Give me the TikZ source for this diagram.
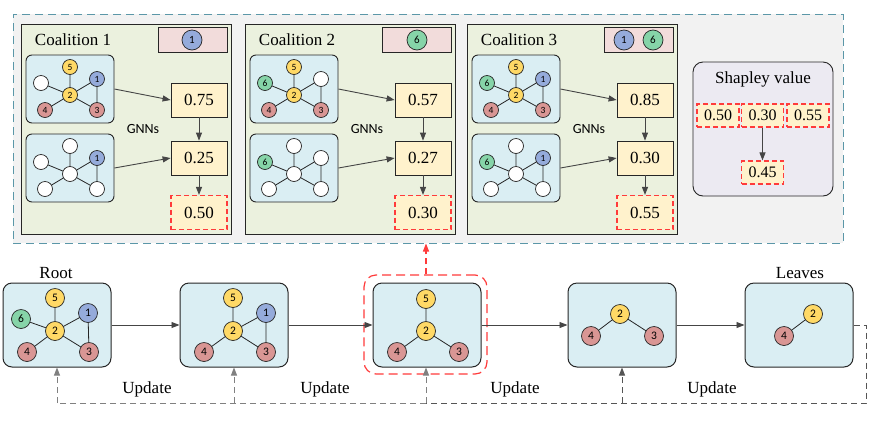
\documentclass[tikz,border=0pt]{standalone}
\usepackage{fontspec}
\setmainfont{Liberation Serif}
\newfontfamily\carl{Carlito}
\usetikzlibrary{arrows.meta}
\definecolor{dk}{HTML}{262626}
\definecolor{ark}{HTML}{454545}
\definecolor{gblue}{HTML}{DAEEF3}
\definecolor{pgreen}{HTML}{EBF1DE}
\definecolor{ppink}{HTML}{F2DCDB}
\definecolor{syel}{HTML}{FFF2CC}
\definecolor{nyel}{HTML}{FFD966}
\definecolor{nblue}{HTML}{95ABDB}
\definecolor{nred}{HTML}{D99694}
\definecolor{ngreen}{HTML}{86D4A8}
\definecolor{lav}{HTML}{ECEAF2}
\definecolor{outerf}{HTML}{F2F2F2}
\definecolor{outerd}{HTML}{5B97A8}
\definecolor{rdash}{HTML}{FF3B3B}
\definecolor{upl}{HTML}{808080}
\definecolor{upd}{HTML}{555555}
\newcommand\sgraph[4]{%
  \node[gbox] (#1) at (#2+44,#3+34) {};
  \foreach \px/\py [count=\i] in {44/12,15/28,71/24,44/40,19/55,71/55}{
    \coordinate (#1-p\i) at (#2+\px,#3+\py);}
  \draw[gedge] (#1-p1)--(#1-p4) (#1-p2)--(#1-p4) (#1-p3)--(#1-p4)
    (#1-p5)--(#1-p4) (#1-p6)--(#1-p4) (#1-p3)--(#1-p6);
  \foreach \st/\lb [count=\i] in {#4}{
    \node[snode,\st] (#1-\i) at (#1-p\i) {\lb};}
}
\newcommand\coal[8]{%
  \node[panel] (c#1) at (126+#2,129) {};
  \node[ttl] (c#1-t) at (73+#2,40) {Coalition #1};
  \node[pinkb] (c#1-k) at (192.5+#2,39.5) {};
  #5
  \sgraph{c#1-a}{26+#2}{55}{#3}
  \sgraph{c#1-b}{26+#2}{134}{#4}
  \node[score] (c#1-s1) at (199+#2,100) {#6};
  \node[score] (c#1-s2) at (199+#2,158) {#7};
  \node[rscore] (c#1-s3) at (199+#2,212.5) {#8};
  \node[gnn] (c#1-g) at (143+#2,129) {GNNs};
  \draw[arr] (c#1-a.east) -- (c#1-s1.west);
  \draw[arr] (c#1-b.east) -- (c#1-s2.west);
  \draw[arr] (c#1-s1) -- (c#1-s2);
  \draw[arr] (c#1-s2) -- (c#1-s3);
}
\begin{document}
\begin{tikzpicture}[x=1pt,y=-1pt,
  gbox/.style={draw=dk,line width=0.9pt,fill=gblue,rounded corners=6pt,minimum width=88pt,minimum height=68pt,inner sep=0pt},
  bigbox/.style={draw=dk,line width=1pt,fill=gblue,rounded corners=9pt,minimum width=108pt,minimum height=84pt,inner sep=0pt},
  gedge/.style={draw=dk,line width=0.8pt},
  snode/.style={circle,draw=dk,line width=0.7pt,minimum size=15pt,inner sep=0pt,font=\carl\fontsize{9.5}{10}\selectfont},
  bnode/.style={snode,minimum size=19pt,font=\carl\fontsize{11.5}{12}\selectfont},
  pnode/.style={snode,minimum size=20pt,font=\carl\fontsize{11}{12}\selectfont},
  yn/.style={fill=nyel}, bn/.style={fill=nblue}, rn/.style={fill=nred},
  gn/.style={fill=ngreen}, wn/.style={fill=white},
  panel/.style={draw=dk,line width=0.9pt,fill=pgreen,minimum width=210pt,minimum height=210pt,inner sep=0pt},
  pinkb/.style={draw=dk,line width=0.8pt,fill=ppink,minimum width=69pt,minimum height=25pt,inner sep=0pt},
  ttl/.style={font=\fontsize{17}{20}\selectfont,inner sep=0pt},
  score/.style={draw=dk,line width=0.8pt,fill=syel,minimum width=56pt,minimum height=34pt,inner sep=0pt,font=\fontsize{17}{18}\selectfont},
  rscore/.style={score,draw=rdash,line width=1.15pt,dash pattern=on 5pt off 3pt},
  sscore/.style={rscore,minimum width=42pt,minimum height=23pt,font=\fontsize{16}{17}\selectfont},
  gnn/.style={font=\carl\fontsize{14}{15}\selectfont,inner sep=0pt},
  arr/.style={draw=ark,line width=0.9pt,-{Triangle[length=8pt,width=6pt]}},
  updash/.style={line width=1pt,dash pattern=on 6pt off 4pt},
  lbl/.style={font=\fontsize{17}{20}\selectfont,inner sep=0pt}]
\useasboundingbox (0,0) rectangle (892,424);
% outer region
\node[draw=outerd,fill=outerf,line width=1pt,dash pattern=on 8pt off 5pt,minimum width=830pt,minimum height=229pt,inner sep=0pt] (outer) at (428,128.5) {};
% coalitions
\coal{1}{0}{yn/5,wn/{},bn/1,yn/2,rn/4,rn/3}{wn/{},wn/{},bn/1,wn/{},wn/{},wn/{}}{\node[pnode,bn] (c1-k1) at (192,40) {1};}{0.75}{0.25}{0.50}
\coal{2}{224}{yn/5,gn/6,wn/{},yn/2,rn/4,rn/3}{wn/{},gn/6,wn/{},wn/{},wn/{},wn/{}}{\node[pnode,gn] (c2-k1) at (417,40) {6};}{0.57}{0.27}{0.30}
\coal{3}{446}{yn/5,gn/6,bn/1,yn/2,rn/4,rn/3}{wn/{},gn/6,bn/1,wn/{},wn/{},wn/{}}{\node[pnode,bn] (c3-k1) at (624,40) {1};\node[pnode,gn] (c3-k2) at (653,40) {6};}{0.85}{0.30}{0.55}
% Shapley
\node[draw=dk,line width=0.9pt,fill=lav,rounded corners=10pt,minimum width=140pt,minimum height=134pt,inner sep=0pt] (sh) at (763,129) {};
\node[ttl] (sh-t) at (763,79) {Shapley value};
\node[sscore] (sh1) at (718,115.5) {0.50};
\node[sscore] (sh2) at (762.5,115.5) {0.30};
\node[sscore] (sh3) at (808,115.5) {0.55};
\node[sscore] (sh4) at (762.5,172.5) {0.45};
\draw[arr] (sh2) -- (sh4);
% bottom row
\node[draw=rdash,line width=1.2pt,dash pattern=on 9pt off 5pt,rounded corners=12pt,minimum width=123pt,minimum height=99pt,inner sep=0pt] (red) at (425.5,324.5) {};
\node[bigbox] (b1) at (57,325) {};
\node[bigbox] (b2) at (234,325) {};
\node[bigbox] (b3) at (427,325) {};
\node[bigbox] (b4) at (622,325) {};
\node[bigbox] (b5) at (799,325) {};
% box 1
\draw[gedge] (55,298)--(55,331) (21,319)--(55,331) (88,313)--(55,331) (27,352)--(55,331) (89,352)--(55,331) (88,313)--(89,352);
\node[bnode,yn] (b1-5) at (55,298) {5};
\node[bnode,gn] (b1-6) at (21,319) {6};
\node[bnode,bn] (b1-1) at (88,313) {1};
\node[bnode,yn] (b1-2) at (55,331) {2};
\node[bnode,rn] (b1-4) at (27,352) {4};
\node[bnode,rn] (b1-3) at (89,352) {3};
% box 2
\draw[gedge] (233,298)--(233,331) (266,313)--(233,331) (204,352)--(233,331) (266,352)--(233,331) (266,313)--(266,352);
\node[bnode,yn] (b2-5) at (233,298) {5};
\node[bnode,bn] (b2-1) at (266,313) {1};
\node[bnode,yn] (b2-2) at (233,331) {2};
\node[bnode,rn] (b2-4) at (204,352) {4};
\node[bnode,rn] (b2-3) at (266,352) {3};
% box 3
\draw[gedge] (426,299)--(426,331) (397,352)--(426,331) (459,352)--(426,331);
\node[bnode,yn] (b3-5) at (426,299) {5};
\node[bnode,yn] (b3-2) at (426,331) {2};
\node[bnode,rn] (b3-4) at (397,352) {4};
\node[bnode,rn] (b3-3) at (459,352) {3};
% box 4
\draw[gedge] (591,336)--(620,314)--(654,336);
\node[bnode,yn] (b4-2) at (620,314) {2};
\node[bnode,rn] (b4-4) at (591,336) {4};
\node[bnode,rn] (b4-3) at (654,336) {3};
% box 5
\draw[gedge] (784,336)--(813,314);
\node[bnode,yn] (b5-2) at (813,314) {2};
\node[bnode,rn] (b5-4) at (784,336) {4};
% labels
\node[lbl] (root) at (56,273) {Root};
\node[lbl] (leaves) at (800,273) {Leaves};
% horizontal arrows
\draw[arr] (b1.east) -- (b2.west);
\draw[arr] (b2.east) -- (b3.west);
\draw[arr] (b3.east) -- (b4.west);
\draw[arr] (b4.east) -- (b5.west);
% red arrow
\draw[draw=rdash,line width=1.1pt,dash pattern=on 6pt off 4pt,-{Triangle[length=8pt,width=6pt]}] (red.north -| b3-5) -- (b3-5 |- outer.south);
% update loop
\coordinate (ur) at (866,403);
\coordinate (ub3) at (426,403);
\draw[draw=upd,updash] (b5.east) -| (ur) -- (ub3);
\draw[draw=upl,updash] (ub3) -- (b1.south |- ur);
\draw[draw=upl,updash,-{Triangle[length=8pt,width=6pt]}] (b1.south |- ur) -- (b1.south);
\draw[draw=upl,updash,-{Triangle[length=8pt,width=6pt]}] (b2.south |- ur) -- (b2.south);
\draw[draw=upl,updash,-{Triangle[length=8pt,width=6pt]}] (ub3) -- (ub3 |- b3.south);
\draw[draw=upd,updash,-{Triangle[length=8pt,width=6pt]}] (b4.south |- ur) -- (b4.south);
\node[lbl] (u1) at (147,389) {Update};
\node[lbl] (u2) at (325,389) {Update};
\node[lbl] (u3) at (515,389) {Update};
\node[lbl] (u4) at (712,389) {Update};
\end{tikzpicture}
\end{document}
